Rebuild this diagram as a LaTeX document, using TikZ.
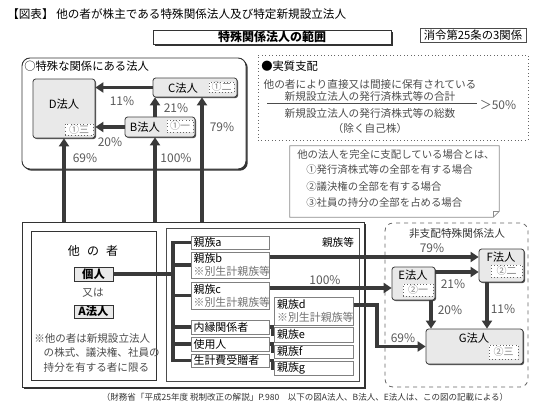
\documentclass[tikz,border=0pt]{standalone}
\usepackage{fontspec}
\setmainfont{Noto Sans CJK JP}
\usetikzlibrary{arrows.meta,positioning,shadows}
\definecolor{arrgray}{HTML}{3A3A3A}
\definecolor{boxgray}{HTML}{E9E9E9}

\begin{document}
\begin{tikzpicture}[x=0.75pt,y=-0.75pt,font=\fontsize{8}{9.75}\selectfont,>={Triangle[length=6pt,width=7.5pt]},
 sz/.style 2 args={minimum width=#1*0.75pt,minimum height=#2*0.75pt},
 frame/.style={draw=black!80,line width=0.7pt,fill=white,inner sep=0pt,drop shadow={shadow xshift=1.3pt,shadow yshift=-1.3pt,fill=black!80,opacity=1}},
 corp/.style={draw=black!75,line width=0.6pt,fill=boxgray,rounded corners=2pt,inner sep=0pt,drop shadow={shadow xshift=0.8pt,shadow yshift=-0.8pt,fill=black!70,opacity=1}},
 sub/.style={draw=black!60,dotted,fill=white,inner sep=0pt,text=black!50,font=\fontsize{7.5}{8}\selectfont},
 kin/.style={draw=black!50,fill=white,anchor=west,align=left,text width=55pt,inner xsep=1.5pt,inner ysep=0pt,font=\fontsize{8.2}{9.75}\selectfont},
 who/.style={draw=black!80,fill=boxgray,inner sep=0pt,font=\fontsize{8.5}{9}\selectfont\bfseries},
 arr/.style={->,draw=arrgray,line width=2.3pt},
 bar/.style={draw=arrgray,line width=2.3pt},
 pct/.style={font=\fontsize{9}{9}\selectfont,text=black!65,inner sep=0pt},
 note/.style={text=black!70,inner sep=0pt}]
\useasboundingbox (0,0) rectangle (550,415);
% header
\node[anchor=west,inner sep=0pt,font=\fontsize{8.7}{10}\selectfont] (title) at (7,14) {【図表】\ 他の者が株主である特殊関係法人及び特定新規設立法人};
\node[frame,sz={238}{14},font=\fontsize{9}{9}\selectfont\bfseries] (range) at (272,37) {特殊関係法人の範囲};
\node[draw=black!70,fill=white,sz={106}{14},inner sep=0pt,font=\fontsize{8.5}{9}\selectfont,drop shadow={shadow xshift=0.6pt,shadow yshift=-0.6pt,fill=black!60,opacity=1}] (rule) at (473,35) {消令第25条の3関係};

% special relation
\node[frame,rounded corners=6pt,sz={224}{111}] (grp) at (134,113.5) {};
\node[anchor=west,inner sep=0pt,font=\fontsize{8.5}{10}\selectfont] (grpt) at (24,66) {○特殊な関係にある法人};
\node[corp,sz={62}{59}] (D) at (64,108.5) {};
\node[inner sep=0pt,font=\fontsize{8.5}{9}\selectfont] (Dt) at (64,104) {D法人};
\node[sub,sz={28}{11}] (Ds) at (79,129.5) {①三};
\node[corp,sz={84}{19}] (C) at (195,87.5) {};
\node[inner sep=0pt,font=\fontsize{8.5}{9}\selectfont] (Ct) at (183,88) {C法人};
\node[sub,sz={25}{10}] (Cs) at (221.5,87) {①二};
\node[corp,sz={70}{20}] (B) at (160,127) {};
\node[inner sep=0pt,font=\fontsize{8.5}{9}\selectfont] (Bt) at (145,127) {B法人};
\node[sub,sz={26}{12}] (Bs) at (180,126) {①一};
\coordinate (xb) at (155,0);
\coordinate (xc) at (202,0);
\draw[arr] (C.west) -- (C.west -| D.east);
\draw[arr] (B.west) -- (B.west -| D.east);
\draw[arr] (xb |- B.north) -- (xb |- C.south);
\node[pct] (p11a) at (122,101) {11\%};
\node[pct] (p20a) at (110,142) {20\%};
\node[pct] (p21a) at (176,108) {21\%};
\node[pct] (p79a) at (222,127) {79\%};
\node[pct] (p69a) at (85,158) {69\%};
\node[pct] (p100a) at (176,158) {100\%};

% real control
\node[draw=black!60,dotted,line width=0.6pt,sz={270}{85}] (ctl) at (393,97.5) {};
\node[anchor=west,inner sep=0pt,font=\fontsize{8.5}{10}\selectfont] (ctlt) at (261,66) {●実質支配};
\node[note] (num1) at (370,84) {他の者により直接又は間接に保有されている};
\node[note] (num2) at (370,96) {新規設立法人の発行済株式等の合計};
\node[note] (den1) at (370,113) {新規設立法人の発行済株式等の総数};
\node[note] (den2) at (370,128) {（除く自己株）};
\draw[black!70,line width=0.5pt] (267,103) -- (477,103);
\node[pct] (gt) at (498,105) {＞50\%};

% full control note
\node[inner sep=0pt,sz={209}{71}] (cmp) at (394.5,181.5) {};
\draw[black!45,line width=0.5pt] (cmp.north west) -- (cmp.north east) -- ([yshift=4.5pt]cmp.south east) -- ([xshift=-4.5pt]cmp.south east) -- (cmp.south west) -- cycle;
\draw[black!45,line width=0.5pt] ([yshift=4.5pt]cmp.south east) -- ([xshift=-4.5pt,yshift=4.5pt]cmp.south east) -- ([xshift=-4.5pt]cmp.south east);
\node[note,anchor=west,font=\fontsize{7.8}{9}\selectfont] (cmp1) at (297,155) {他の法人を完全に支配している場合とは、};
\node[note,anchor=west,font=\fontsize{7.8}{9}\selectfont] (cmp2) at (306,170) {①発行済株式等の全部を有する場合};
\node[note,anchor=west,font=\fontsize{7.8}{9}\selectfont] (cmp3) at (306,187) {②議決権の全部を有する場合};
\node[note,anchor=west,font=\fontsize{7.8}{9}\selectfont] (cmp4) at (306,203) {③社員の持分の全部を占める場合};

% other party and relatives
\node[frame,sz={342}{165}] (low) at (193,304.5) {};
\node[draw=black!80,line width=0.5pt,sz={125}{149},inner sep=0pt] (oth) at (93.5,305.5) {};
\node[inner sep=0pt,font=\fontsize{9}{9}\selectfont] (otht) at (93,251) {他\hspace{0.6em}の\hspace{0.6em}者};
\node[who,sz={39}{14}] (kojin) at (93.5,274) {個人};
\node[inner sep=0pt,text=black!70] (or) at (93,293) {又は};
\node[who,sz={39}{13}] (Acorp) at (93.5,311.5) {A法人};
\node[note,anchor=north west,align=left,font=\fontsize{7.9}{10.9}\selectfont] (othn) at (34,333) {※他の者は新規設立法人\\\hspace*{0.9em}の株式、議決権、社員の\\\hspace*{0.9em}持分を有する者に限る};

\node[draw=black!70,line width=0.5pt,sz={193}{153},inner sep=0pt] (kinbox) at (262.5,304.5) {};
\node[inner sep=0pt] (kint) at (338,242) {親族等};
\node[kin,sz={78}{13}] (ka) at (191,242.5) {親族a};
\node[kin,sz={78}{26}] (kb) at (191,265) {親族b\\\textcolor{black!55}{※別生計親族等}};
\node[kin,sz={78}{27}] (kc) at (191,295.5) {親族c\\\textcolor{black!55}{※別生計親族等}};
\node[kin,sz={78}{14}] (knai) at (191,327) {内縁関係者};
\node[kin,sz={78}{14}] (kshi) at (191,344) {使用人};
\node[kin,sz={78}{13}] (ksei) at (191,360.5) {生計費受贈者};
\node[kin,sz={79}{28}] (kd) at (274,311) {親族d\\\textcolor{black!55}{※別生計親族等}};
\node[kin,sz={79}{15}] (ke) at (274,334.5) {親族e};
\node[kin,sz={79}{13}] (kf) at (274,351.5) {親族f};
\node[kin,sz={79}{14}] (kg) at (274,368) {親族g};
\coordinate (xbr) at (173,0);
\draw[bar] (kojin.east) -- (kojin.east -| xbr);
\draw[bar] (ka.west) -| (xbr |- ksei.west) -- (ksei.west);
\foreach \k in {kb,kc,knai,kshi}
  \draw[bar] (xbr |- \k.west) -- (\k.west);
\draw[bar] (knai.east) -- ++(2.5,0) |- (ke.west);
\draw[bar] (kshi.east) -- ++(2.5,0) |- (kf.west);
\draw[bar] (ksei.east) -- ++(2.5,0) |- (kg.west);

% non-controlling group
\node[draw=black!60,dashed,line width=0.6pt,rounded corners=6pt,sz={143}{164},inner sep=0pt] (ncg) at (456.5,305) {};
\node[inner sep=0pt,text=black!80] (ncgt) at (457,233) {非支配特殊関係法人};
\node[corp,sz={43}{33}] (E) at (413.5,283.5) {};
\node[inner sep=0pt,font=\fontsize{8.5}{9}\selectfont] (Et) at (413,275) {E法人};
\node[sub,sz={30}{12}] (Es) at (418,290) {②一};
\node[corp,sz={45}{33}] (F) at (501.5,265.5) {};
\node[inner sep=0pt,font=\fontsize{8.5}{9}\selectfont] (Ft) at (501,257) {F法人};
\node[sub,sz={31}{12}] (Fs) at (506.5,271) {②二};
\node[corp,sz={97}{35}] (G) at (474.5,346.5) {};
\node[inner sep=0pt,font=\fontsize{8.5}{9}\selectfont] (Gt) at (474,338) {G法人};
\node[sub,sz={29}{14}] (Gs) at (503.5,352) {②三};

% shareholdings
\coordinate (y79) at (0,257);
\coordinate (y100) at (0,288);
\coordinate (y69) at (0,305);
\coordinate (y21) at (0,272);
\coordinate (xg) at (377,0);
\coordinate (xeg) at (431,0);
\coordinate (xfg) at (487,0);
\draw[arr] (D.south |- low.north) -- (D.south);
\draw[arr] (xb |- low.north) -- (xb |- B.south);
\draw[arr] (xc |- low.north) -- (xc |- C.south);
\draw[arr] (kb.east |- y79) -- (F.west |- y79);
\draw[arr] (kc.east |- y100) -- (E.west |- y100);
\draw[arr] (kd.east |- y69) -| (xg |- G.west) -- (G.west);
\draw[arr] (E.east |- y21) -- (F.west |- y21);
\draw[arr] (xeg |- E.south) -- (xeg |- G.north);
\draw[arr] (xfg |- F.south) -- (xfg |- G.north);
\node[pct] (p79b) at (432,248) {79\%};
\node[pct] (p100b) at (325,280) {100\%};
\node[pct] (p69b) at (403,338) {69\%};
\node[pct] (p21b) at (453,284) {21\%};
\node[pct] (p20b) at (450,310) {20\%};
\node[pct] (p11b) at (503,309) {11\%};

\node[inner sep=0pt,font=\fontsize{6.4}{7}\selectfont,text=black!80] (src) at (305,397) {（財務省「平成25年度 税制改正の解説」P.980　以下の図A法人、B法人、E法人は、この図の記載による）};
\end{tikzpicture}
\end{document}
